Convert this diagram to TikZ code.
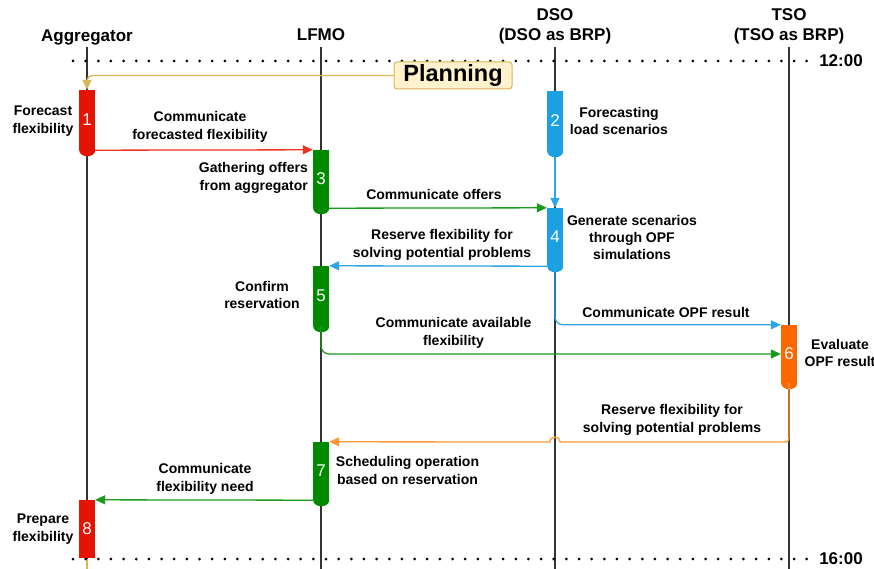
\documentclass[tikz,border=0pt]{standalone}
\usepackage{fontspec}
\setmainfont{Liberation Sans}
\usetikzlibrary{arrows.meta}
\definecolor{redf}{HTML}{E51400}
\definecolor{redl}{HTML}{EE3322}
\definecolor{greenf}{HTML}{008A00}
\definecolor{greenl}{HTML}{1A9A1A}
\definecolor{bluef}{HTML}{1BA1E2}
\definecolor{bluel}{HTML}{2EA6E6}
\definecolor{orangef}{HTML}{FA6800}
\definecolor{orangel}{HTML}{FF9933}
\definecolor{tanl}{HTML}{D6B656}
\definecolor{tanf}{HTML}{FFF2CC}
\definecolor{lifec}{HTML}{333333}
\newcommand\bartip[2]{\fill[#2] (#1.south east) .. controls +(0,4) and +(4,0) .. ++(-8,6) .. controls +(-4,0) and +(0,4) .. ++(-8,-6) -- cycle;}
\begin{document}
\begin{tikzpicture}[x=1pt,y=-1pt,
  bar/.style={draw=none, minimum width=16, inner sep=0, text=white, font=\fontsize{17}{17}\selectfont},
  lbl/.style={font=\bfseries\fontsize{14}{17.5}\selectfont, align=center, inner sep=0},
  hdr/.style={font=\bfseries\fontsize{17}{20}\selectfont, inner sep=0, align=center},
  life/.style={draw=lifec, line width=1.1pt},
  dotline/.style={line width=3pt, line cap=round, dash pattern=on 0pt off 12.65pt},
  conn/.style={line width=1.3pt, -{Triangle[length=10pt,width=9pt]}}]
\useasboundingbox (0,0) rectangle (874,569);
% headers
\node[hdr] (hA) at (87,37) {Aggregator};
\node[hdr] (hL) at (321,34.5) {LFMO};
\node[hdr] (hD) at (555,26) {DSO\\(DSO as BRP)};
\node[hdr] (hT) at (789,26) {TSO\\(TSO as BRP)};
% lifelines
\coordinate (aTop) at (87,47);  \coordinate (aMid) at (87,559); \coordinate (aBot) at (87,569);
\coordinate (lTop) at (321,47); \coordinate (lBot) at (321,569);
\coordinate (dTop) at (555,47); \coordinate (dBot) at (555,569);
\coordinate (tTop) at (789,47); \coordinate (tBot) at (789,569);
\draw[life] (aTop) -- (aMid);
\draw[tanl, line width=1.3pt] (aMid) -- (aBot);
\draw[life] (lTop) -- (lBot);
\draw[life] (dTop) -- (dBot);
\draw[life] (tTop) -- (tBot);
% time lines
\coordinate (d1a) at (73,61); \coordinate (d1b) at (812,61);
\coordinate (d2a) at (73,559); \coordinate (d2b) at (812,559);
\draw[dotline] (d1a) -- (d1b);
\draw[dotline] (d2a) -- (d2b);
\node[hdr] (t12) at (841,61) {12:00};
\node[hdr] (t16) at (841,559) {16:00};
% planning
\node[draw=tanl, fill=tanf, line width=1pt, rounded corners=3pt, minimum width=118, minimum height=27, inner sep=0,
  font=\bfseries\fontsize{23.5}{23.5}\selectfont] (plan) at (453,75.5) {Planning};
% bars (positions)
\node[bar, fill=redf, minimum height=60] (b1) at (87,120) {1};
\node[bar, fill=bluef, minimum height=60] (b2) at (555,121) {2};
\node[bar, fill=greenf, minimum height=58] (b3) at (321,179) {3};
\node[bar, fill=bluef, minimum height=58] (b4) at (555,237) {4};
\node[bar, fill=greenf, minimum height=60] (b5) at (321,296) {5};
\node[bar, fill=orangef, minimum height=58] (b6) at (789,354) {6};
\node[bar, fill=greenf, minimum height=58] (b7) at (321,471) {7};
\node[bar, fill=redf, minimum height=58] (b8) at (87,529) {8};
\bartip{b1}{redf}
\bartip{b2}{bluef}
\bartip{b3}{greenf}
\bartip{b4}{bluef}
\bartip{b5}{greenf}
\bartip{b6}{orangef}
\bartip{b7}{greenf}
% connectors
\draw[conn, tanl, rounded corners=5pt] (plan.west) -| (b1.north);
\draw[conn, redl] (b1.south east) -- (b3.north west);
\draw[conn, greenl] (b3.south east) -- (b4.north west);
\draw[conn, bluel] (b2.south) ++(0,6) -- (b4.north);
\draw[conn, bluel] (b4.south west) -- (b5.north east);
\draw[conn, bluel, rounded corners=8pt] (b4.south) |- (b6.north west);
\draw[conn, greenl, rounded corners=8pt] (b5.south) |- (b6.west);
\draw[conn, orangel] (b6.south) -- (789,434) .. controls (789,442) .. (781,442) -- (560,442)
  .. controls (560,435.3) and (550,435.3) .. (550,442) -- (b7.north east);
\draw[conn, greenl] (b7.south west) -- (b8.north east);
% labels
\node[lbl] (l1) at (43,121) {Forecast\\flexibility};
\node[lbl] (l2) at (200,127) {Communicate\\forecasted flexibility};
\node[lbl, align=right, anchor=east] (l3) at (308,178) {Gathering offers\\from aggregator};
\node[lbl] (l4) at (434,194) {Communicate offers};
\node[lbl] (l5) at (619,121) {Forecasting\\load scenarios};
\node[lbl, font=\bfseries\fontsize{14}{17}\selectfont] (l6) at (632,237) {Generate scenarios\\through OPF\\simulations};
\node[lbl] (l7) at (442,245) {Reserve flexibility for\\solving potential problems};
\node[lbl] (l8) at (262,295) {Confirm\\reservation};
\node[lbl] (l9) at (666,312) {Communicate OPF result};
\node[lbl] (l10) at (453.5,333) {Communicate available\\flexibility};
\node[lbl] (l11) at (840,353) {Evaluate\\OPF result};
\node[lbl] (l12) at (672,420) {Reserve flexibility for\\solving potential problems};
\node[lbl] (l13) at (407.5,470.5) {Scheduling operation\\based on reservation};
\node[lbl] (l14) at (205,479) {Communicate\\flexibility need};
\node[lbl] (l15) at (43,529) {Prepare\\flexibility};
\end{tikzpicture}
\end{document}
